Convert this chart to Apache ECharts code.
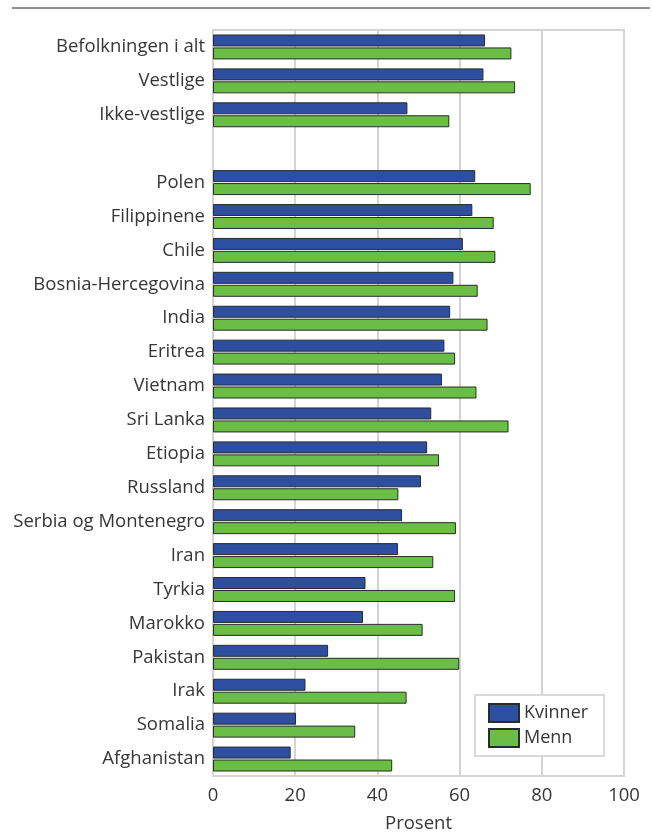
<!DOCTYPE html>
<html>
<head>
<meta charset="utf-8">
<script src="https://cdn.jsdelivr.net/npm/echarts@6/dist/echarts.min.js"></script>
<style>
html,body{margin:0;padding:0;background:#fff;}
#chart{width:652px;height:834px;}
</style>
</head>
<body>
<div id="chart"></div>
<script>
var categories = ['Befolkningen i alt','Vestlige','Ikke-vestlige','','Polen','Filippinene','Chile','Bosnia-Hercegovina','India','Eritrea','Vietnam','Sri Lanka','Etiopia','Russland','Serbia og Montenegro','Iran','Tyrkia','Marokko','Pakistan','Irak','Somalia','Afghanistan'];
var kvinner = [66.2,65.8,47.3,null,63.8,63.1,60.8,58.5,57.7,56.3,55.7,53.1,52.1,50.6,46.0,45.0,37.1,36.5,28.0,22.5,20.2,18.9];
var menn = [72.6,73.5,57.5,null,77.3,68.3,68.7,64.4,66.8,58.9,64.1,71.9,55.0,45.1,59.1,53.6,58.9,51.0,59.9,47.1,34.6,43.6];
var xTicks = [0,20,40,60,80,100];
var seriesNames = ['Kvinner','Menn'];

var FONT = '"Open Sans", "Noto Sans", sans-serif';
var TXT = '#363636';
var chart = echarts.init(document.getElementById('chart'));
chart.setOption({
  animation: false,
  backgroundColor: '#ffffff',
  textStyle: {fontFamily: FONT},
  grid: {left: 213, right: 28, top: 30, bottom: 58, show: true, borderColor: '#d4d4d4', borderWidth: 2,
         containLabel: false, outerBoundsMode: 'none'},
  xAxis: {
    type: 'value', min: xTicks[0], max: xTicks[xTicks.length-1], interval: 20,
    axisLine: {show: false}, axisTick: {show: false},
    splitLine: {show: true, lineStyle: {color: '#d4d4d4', width: 2}},
    axisLabel: {color: TXT, fontSize: 18.5, fontFamily: FONT, margin: 10},
    name: 'Prosent', nameLocation: 'middle', nameGap: 38,
    nameTextStyle: {color: TXT, fontSize: 18.5, fontFamily: FONT}
  },
  yAxis: {
    type: 'category', data: categories, inverse: true,
    axisLine: {show: false}, axisTick: {show: false}, splitLine: {show: false},
    axisLabel: {color: TXT, fontSize: 18.5, fontFamily: FONT, margin: 8}
  },
  legend: {
    orient: 'vertical', left: 475, top: 695,
    icon: 'rect',
    itemWidth: 30, itemHeight: 18, itemGap: 5,
    padding: [8, 16, 8, 13],
    backgroundColor: '#ffffff', borderColor: '#d9d9d9', borderWidth: 2, borderRadius: 0,
    textStyle: {color: TXT, fontSize: 18, fontFamily: FONT},
    data: seriesNames
  },
  graphic: [{type: 'line', shape: {x1: 12, y1: 8, x2: 650, y2: 8}, style: {stroke: '#222', lineWidth: 1}}],
  series: [
    {name: seriesNames[0], type: 'bar', data: kvinner, barWidth: 12, barGap: '8%',
     itemStyle: {color: '#2E4FA0', borderColor: '#2b2b2b', borderWidth: 1}},
    {name: seriesNames[1], type: 'bar', data: menn, barWidth: 12, barGap: '8%',
     itemStyle: {color: '#6BBE45', borderColor: '#2b2b2b', borderWidth: 1}}
  ]
});
</script>
</body>
</html>
